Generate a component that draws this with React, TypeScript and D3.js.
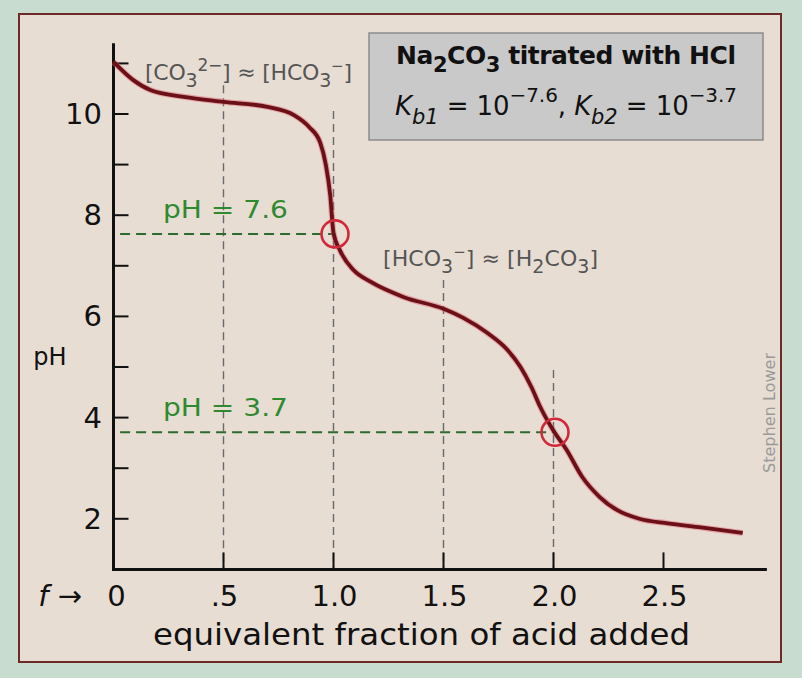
import React from "react";
import * as d3 from "d3";

const fracs = [0, 0.09, 0.17, 0.32, 0.5, 0.7, 0.82, 0.89, 0.94, 0.965, 0.985, 1.0, 1.03, 1.09, 1.17, 1.32, 1.5, 1.59, 1.7, 1.79, 1.85, 1.9, 1.94, 2.0, 2.06, 2.13, 2.21, 2.29, 2.39, 2.52, 2.67, 2.86];
const phValues = [11.03, 10.67, 10.47, 10.34, 10.24, 10.14, 9.98, 9.74, 9.43, 9.0, 8.4, 7.65, 7.3, 6.92, 6.68, 6.38, 6.15, 5.97, 5.67, 5.34, 5.0, 4.6, 4.21, 3.74, 3.36, 2.83, 2.43, 2.17, 2.0, 1.91, 1.83, 1.72];

const xTicks = [0, 0.5, 1.0, 1.5, 2.0, 2.5];
const xTickLabels = ["0", ".5", "1.0", "1.5", "2.0", "2.5"];
const yMajor = [2, 4, 6, 8, 10];
const yMinor = [3, 5, 7, 9, 11];

const guideFracs = [0.5, 1.0, 1.5, 2.0];
const guideTops = [10.57, 10.06, 6.72, 4.94];

const eqFracs = [1.0, 2.0];
const eqPH = [7.63, 3.71];
const eqLabels = ["pH = 7.6", "pH = 3.7"];

export default function App() {
  const W = 802, H = 678;
  const x = d3.scaleLinear().domain([0, 2.5]).range([113.5, 663.5]);
  const y = d3.scaleLinear().domain([1, 10]).range([569.4, 114]);
  const pts = fracs.map((f, i) => [f, phValues[i]] as [number, number]);
  const line = d3.line<[number, number]>().x(d => x(d[0])).y(d => y(d[1])).curve(d3.curveMonotoneX);
  const path = line(pts) || "";
  const font = "'DejaVu Sans', 'Noto Sans', sans-serif";
  const x0 = x(0);
  const yAxisTop = y(11.4);
  const xAxisEnd = x(2.97);
  const xAxisY = y(1);

  return (
    <svg width={W} height={H} style={{ position: "absolute", left: 0, top: 0 }} fontFamily={font}>
      <rect x={0} y={0} width={W} height={H} fill="#c8ddcf" />
      <rect x={19} y={14} width={762} height={648} fill="#e8ddd3" stroke="#6e2a28" strokeWidth={2} />

      {/* guide lines */}
      {guideFracs.map((f, i) => (
        <line key={"g" + i} x1={x(f)} x2={x(f)} y1={y(guideTops[i])} y2={xAxisY} stroke="#6a6a6a" strokeWidth={1.4} strokeDasharray="8,5" />
      ))}
      {eqFracs.map((f, i) => (
        <line key={"e" + i} x1={x(0.03)} x2={x(f)} y1={y(eqPH[i])} y2={y(eqPH[i])} stroke="#2e6a2e" strokeWidth={2} strokeDasharray="10,6" />
      ))}

      {/* axes */}
      <line x1={x0} x2={x0} y1={yAxisTop} y2={xAxisY + 1.5} stroke="#111" strokeWidth={3} />
      <line x1={x0 - 1.5} x2={xAxisEnd} y1={xAxisY} y2={xAxisY} stroke="#111" strokeWidth={3} />
      {yMajor.concat(yMinor).map((v) => (
        <line key={"yt" + v} x1={x0} x2={x0 + 15} y1={y(v)} y2={y(v)} stroke="#111" strokeWidth={2} />
      ))}
      {xTicks.slice(1).map((v) => (
        <line key={"xt" + v} x1={x(v)} x2={x(v)} y1={xAxisY} y2={xAxisY - 17} stroke="#111" strokeWidth={2} />
      ))}
      {yMajor.map((v) => (
        <text key={"yl" + v} x={102} y={y(v) + 10} textAnchor="end" fontSize={29} fill="#111">{v}</text>
      ))}
      {xTicks.map((v, i) => (
        <text key={"xl" + v} x={x(v) + (i === 0 ? 3 : 1)} y={606} textAnchor="middle" fontSize={29} fill="#111">{xTickLabels[i]}</text>
      ))}
      <text x={82} y={606} textAnchor="end" fontSize={29} fill="#111">
        <tspan fontStyle="italic">f</tspan> →
      </text>
      <text x={153} y={645} fontSize={30} fill="#111" textLength={537} lengthAdjust="spacingAndGlyphs">equivalent fraction of acid added</text>
      <text x={50} y={365} textAnchor="middle" fontSize={24} fill="#111">pH</text>

      {/* curve */}
      <path d={path} fill="none" stroke="#e06070" strokeOpacity={0.45} strokeWidth={6} />
      <path d={path} fill="none" stroke="#6a1016" strokeWidth={3.8} />

      {/* equivalence circles */}
      {eqFracs.map((f, i) => (
        <circle key={"c" + i} cx={x(f) + 1.5} cy={y(eqPH[i])} r={13.5} fill="none" stroke="#d2283c" strokeWidth={2.6} />
      ))}
      {eqLabels.map((t, i) => (
        <text key={"el" + i} x={163} y={y(eqPH[i]) - 16} fontSize={25} fill="#2f8a2f" textLength={125} lengthAdjust="spacingAndGlyphs">{t}</text>
      ))}

      {/* species annotations */}
      <text x={145} y={80} fontSize={22} fill="#555" textLength={207}>
        [CO<tspan dy={7} fontSize={19}>3</tspan><tspan dy={-16} fontSize={17}>2−</tspan><tspan dy={9}>] ≈ [HCO</tspan><tspan dy={7} fontSize={19}>3</tspan><tspan dy={-16} fontSize={15}>−</tspan><tspan dy={9}>]</tspan>
      </text>
      <text x={383} y={266} fontSize={22} fill="#555" textLength={215}>
        [HCO<tspan dy={7} fontSize={19}>3</tspan><tspan dy={-16} fontSize={15}>−</tspan><tspan dy={9}>] ≈ [H</tspan><tspan dy={7} fontSize={19}>2</tspan><tspan dy={-7}>CO</tspan><tspan dy={7} fontSize={19}>3</tspan><tspan dy={-7}>]</tspan>
      </text>

      {/* title box */}
      <rect x={369} y={33} width={394} height={107} fill="#c9c9c9" stroke="#8a8a8a" strokeWidth={1.5} />
      <text x={396} y={64} fontSize={25} fontWeight="bold" fill="#111" textLength={340}>
        Na<tspan dy={8} fontSize={21}>2</tspan><tspan dy={-8}>CO</tspan><tspan dy={8} fontSize={21}>3</tspan><tspan dy={-8}> titrated with HCl</tspan>
      </text>
      <text x={395} y={115} fontSize={26} fill="#111" textLength={342}>
        <tspan fontStyle="italic">K</tspan><tspan dy={9} fontSize={21} fontStyle="italic">b1</tspan><tspan dy={-9}> = 10</tspan><tspan dy={-13} fontSize={20}>−7.6</tspan><tspan dy={13}>, </tspan><tspan fontStyle="italic">K</tspan><tspan dy={9} fontSize={21} fontStyle="italic">b2</tspan><tspan dy={-9}> = 10</tspan><tspan dy={-13} fontSize={20}>−3.7</tspan>
      </text>

      <text x={0} y={0} transform="translate(775,413) rotate(-90)" textAnchor="middle" fontSize={15} fill="#9a9a9a" textLength={120} lengthAdjust="spacingAndGlyphs">Stephen Lower</text>
    </svg>
  );
}
